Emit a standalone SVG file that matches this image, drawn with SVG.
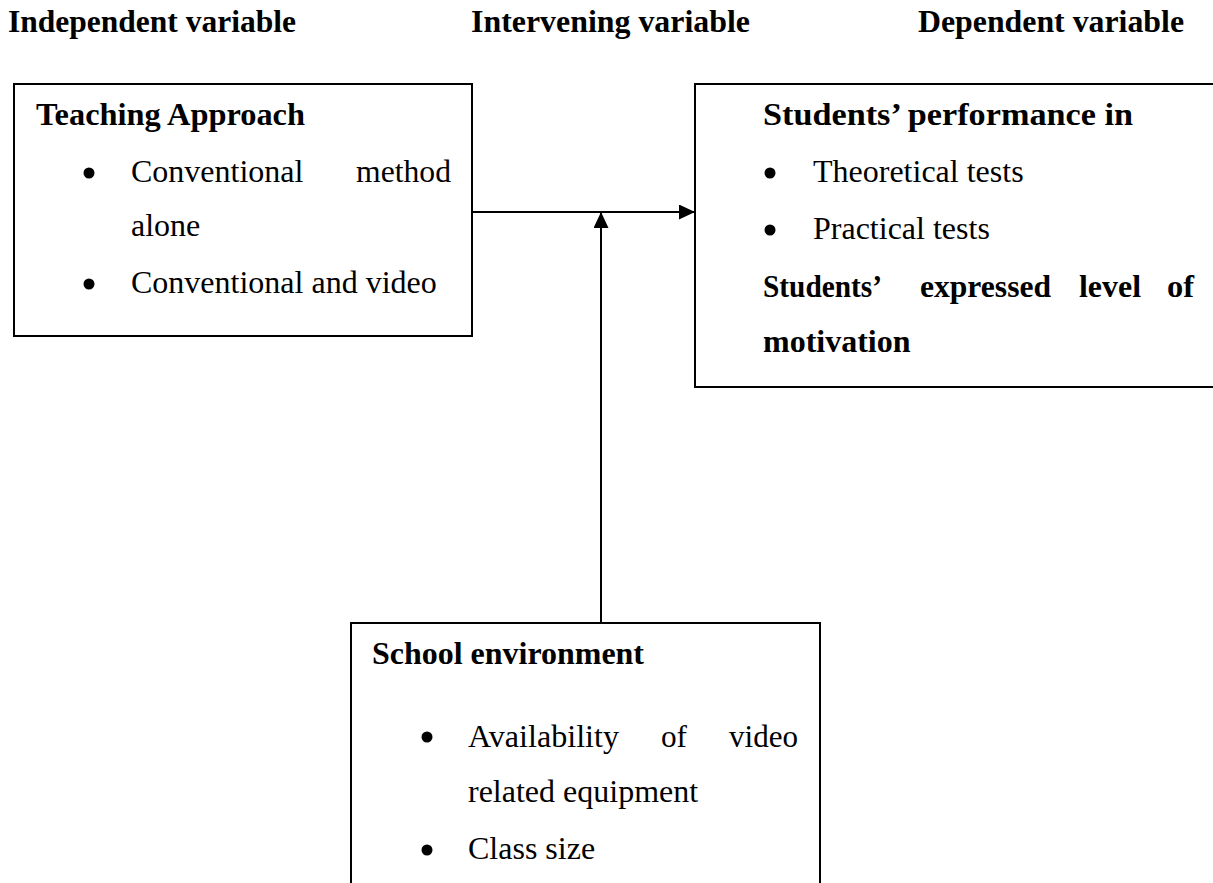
<svg xmlns="http://www.w3.org/2000/svg" width="1213" height="883" viewBox="0 0 1213 883">
<style>
.hd{font-family:"Liberation Serif","Times New Roman",serif;font-weight:bold;font-size:32px;fill:#000}
.b{font-family:"Liberation Serif","Times New Roman",serif;font-weight:bold;font-size:32px;fill:#000}
.t{font-family:"Liberation Serif","Times New Roman",serif;font-size:32px;fill:#000}
.box{fill:#fff;stroke:#000;stroke-width:2}
.ln{fill:none;stroke:#000;stroke-width:2}
</style>
<defs>
<marker id="ah" markerUnits="userSpaceOnUse" markerWidth="17" markerHeight="16" refX="16" refY="7.5" orient="auto">
<path d="M0,0 L16,7.5 L0,15 z" fill="#000"/>
</marker>
</defs>
<rect width="1213" height="883" fill="#fff"/>
<g id="headers">
<text class="hd" x="8" y="32" textLength="288" lengthAdjust="spacingAndGlyphs">Independent variable</text>
<text class="hd" x="471" y="32" textLength="279" lengthAdjust="spacingAndGlyphs">Intervening variable</text>
<text class="hd" x="918" y="32" textLength="266" lengthAdjust="spacingAndGlyphs">Dependent variable</text>
</g>
<g id="connectors">
<line class="ln" x1="472" y1="212" x2="695" y2="212" marker-end="url(#ah)"/>
<line class="ln" x1="601" y1="622" x2="601" y2="212" marker-end="url(#ah)"/>
</g>
<g id="teaching">
<rect class="box" x="14" y="84" width="458" height="252"/>
<text class="b" x="36" y="125" textLength="269" lengthAdjust="spacingAndGlyphs">Teaching Approach</text>
<circle cx="89" cy="173" r="5.5"/>
<text class="t" x="131" y="182">Conventional</text>
<text class="t" x="356" y="182" textLength="95" lengthAdjust="spacingAndGlyphs">method</text>
<text class="t" x="131" y="236">alone</text>
<circle cx="89" cy="284" r="5.5"/>
<text class="t" x="131" y="293">Conventional and video</text>
</g>
<g id="students">
<rect class="box" x="695" y="84" width="530" height="303"/>
<text class="b" x="763" y="125" textLength="370" lengthAdjust="spacingAndGlyphs">Students’ performance in</text>
<circle cx="770" cy="173" r="5.5"/>
<text class="t" x="813" y="182">Theoretical tests</text>
<circle cx="770" cy="230" r="5.5"/>
<text class="t" x="813" y="239">Practical tests</text>
<text class="b" x="763" y="297" textLength="119" lengthAdjust="spacingAndGlyphs">Students’</text>
<text class="b" x="920" y="297" textLength="131" lengthAdjust="spacingAndGlyphs">expressed</text>
<text class="b" x="1079" y="297" textLength="62" lengthAdjust="spacingAndGlyphs">level</text>
<text class="b" x="1167" y="297" textLength="27" lengthAdjust="spacingAndGlyphs">of</text>
<text class="b" x="763" y="352">motivation</text>
</g>
<g id="school">
<rect class="box" x="351" y="623" width="469" height="280"/>
<text class="b" x="372" y="664" textLength="272" lengthAdjust="spacingAndGlyphs">School environment</text>
<circle cx="427" cy="737" r="5.5"/>
<text class="t" x="468" y="747" textLength="151" lengthAdjust="spacingAndGlyphs">Availability</text>
<text class="t" x="661" y="747" textLength="26" lengthAdjust="spacingAndGlyphs">of</text>
<text class="t" x="729" y="747" textLength="69" lengthAdjust="spacingAndGlyphs">video</text>
<text class="t" x="468" y="802">related equipment</text>
<circle cx="427" cy="850" r="5.5"/>
<text class="t" x="468" y="859">Class size</text>
</g>
</svg>
